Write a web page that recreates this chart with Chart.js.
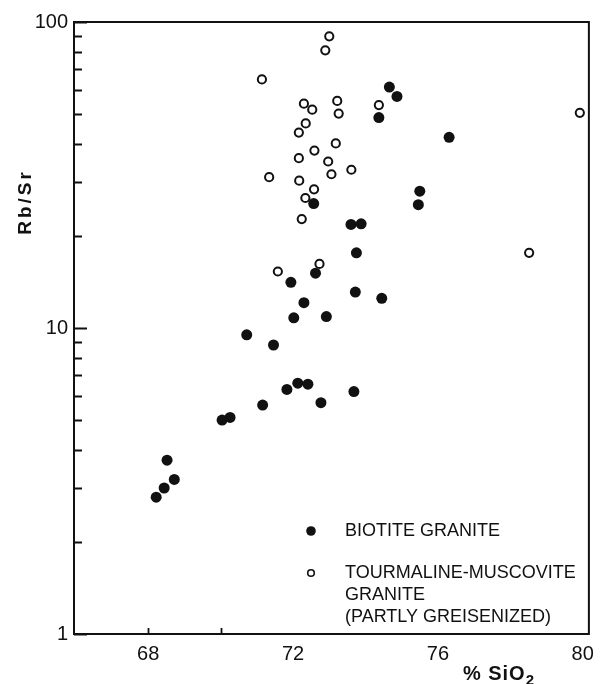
<!DOCTYPE html>
<html>
<head>
<meta charset="utf-8">
<style>
  html, body { margin: 0; padding: 0; background: #ffffff; }
  #wrap { width: 602px; height: 684px; }
</style>
<script src="https://cdn.jsdelivr.net/npm/chart.js@4.4.1/dist/chart.umd.min.js"></script>
</head>
<body>
<div id="wrap"><canvas id="c" width="602" height="684"></canvas></div>
<script>
// Rb/Sr ratio against % SiO2 for two granite types (log Rb/Sr axis)

const biotiteSiO2 = [74.66, 74.87, 74.37, 76.31, 75.50, 75.46, 72.57, 73.60, 73.88, 73.75,
                     72.62, 71.94, 73.72, 74.45, 72.30, 72.02, 72.92, 70.72, 71.46, 72.13,
                     72.41, 71.83, 71.16, 72.77, 73.68, 70.04, 70.26, 68.52, 68.72, 68.44, 68.22];
const biotiteRbSr = [61.3, 57.1, 48.7, 42.0, 28.0, 25.3, 25.5, 21.8, 21.9, 17.6,
                     15.1, 14.1, 13.1, 12.5, 12.1, 10.8, 10.9, 9.5, 8.8, 6.6,
                     6.55, 6.3, 5.6, 5.7, 6.2, 5.0, 5.1, 3.7, 3.2, 3.0, 2.8];

const tourmalineSiO2 = [73.00, 72.89, 71.14, 72.30, 72.53, 73.22, 73.26, 74.37, 72.35, 72.16,
                        73.18, 72.59, 72.16, 72.97, 73.06, 73.61, 71.34, 72.17, 72.58, 72.34,
                        72.24, 72.73, 71.58, 79.92, 78.52];
const tourmalineRbSr = [89.8, 80.8, 64.9, 54.1, 51.7, 55.2, 50.2, 53.5, 46.6, 43.5,
                        40.1, 38.0, 35.9, 35.0, 31.8, 32.9, 31.1, 30.3, 28.4, 26.6,
                        22.7, 16.2, 15.3, 50.5, 17.6];

const biotiteLegend = ['BIOTITE GRANITE'];
const tourmalineLegend = ['TOURMALINE-MUSCOVITE', 'GRANITE', '(PARTLY GREISENIZED)'];

const xTickLabels = [68, 72, 76, 80];
const xTickMarks = [68, 70];
const yTickLabels = [1, 10, 100];
const yMinorTicks = [2, 3, 4, 5, 6, 7, 8, 9, 20, 30, 40, 50, 60, 70, 80, 90];

const INK = '#111111';
const FONT = '"Liberation Sans", Arial, Helvetica, sans-serif';

function pairs(xs, ys) {
  return xs.map((x, i) => ({ x: x, y: ys[i] }));
}

// Frame, inward ticks, axis titles and the in-plot key
const decorations = {
  id: 'decorations',
  afterDraw(chart) {
    const ctx = chart.ctx;
    const a = chart.chartArea;
    const xs = chart.scales.x;
    const ys = chart.scales.y;
    ctx.save();
    ctx.strokeStyle = INK;
    ctx.fillStyle = INK;

    // box
    ctx.lineWidth = 2;
    ctx.strokeRect(a.left, a.top, a.right - a.left, a.bottom - a.top);

    // y ticks pointing into the plot
    ctx.lineWidth = 1.8;
    ctx.beginPath();
    yTickLabels.forEach(v => {
      const py = Math.round(ys.getPixelForValue(v)) + 0.5;
      ctx.moveTo(a.left, py); ctx.lineTo(a.left + 13, py);
    });
    yMinorTicks.forEach(v => {
      const py = Math.round(ys.getPixelForValue(v)) + 0.5;
      ctx.moveTo(a.left, py); ctx.lineTo(a.left + 8, py);
    });
    // x ticks pointing into the plot
    xTickMarks.forEach(v => {
      const px = Math.round(xs.getPixelForValue(v)) + 0.5;
      ctx.moveTo(px, a.bottom); ctx.lineTo(px, a.bottom - 6);
    });
    ctx.stroke();

    // y title
    ctx.save();
    ctx.translate(a.left - 48, a.top + 180);
    ctx.rotate(-Math.PI / 2);
    ctx.font = 'bold 19px ' + FONT;
    ctx.letterSpacing = '3px';
    ctx.textAlign = 'center';
    ctx.textBaseline = 'middle';
    ctx.fillText('Rb/Sr', 0, 0);
    ctx.restore();

    // x title with subscript
    ctx.save();
    ctx.font = 'bold 20px ' + FONT;
    ctx.letterSpacing = '1px';
    ctx.textAlign = 'left';
    ctx.textBaseline = 'alphabetic';
    const tx = a.right - 126, ty = a.bottom + 46;
    ctx.fillText('% SiO', tx, ty);
    const w = ctx.measureText('% SiO').width;
    ctx.font = 'bold 15px ' + FONT;
    ctx.fillText('2', tx + w, ty + 5);
    ctx.restore();

    // key
    const ds0 = chart.data.datasets[0];
    const ds1 = chart.data.datasets[1];
    const kx = a.left + 237;
    const tx0 = a.left + 271;
    ctx.font = '18px ' + FONT;
    ctx.textAlign = 'left';
    ctx.textBaseline = 'middle';

    let ky = a.top + 509;
    ctx.beginPath();
    ctx.arc(kx, ky, 4.8, 0, Math.PI * 2);
    ctx.fillStyle = ds0.pointBackgroundColor;
    ctx.fill();
    ctx.fillStyle = INK;
    biotiteLegend.forEach((t, i) => ctx.fillText(t, tx0, ky + i * 22));

    ky = a.top + 551;
    ctx.beginPath();
    ctx.arc(kx, ky, 3.3, 0, Math.PI * 2);
    ctx.fillStyle = ds1.pointBackgroundColor;
    ctx.fill();
    ctx.lineWidth = 1.6;
    ctx.strokeStyle = ds1.pointBorderColor;
    ctx.stroke();
    ctx.fillStyle = INK;
    tourmalineLegend.forEach((t, i) => ctx.fillText(t, tx0, ky + i * 22));

    ctx.restore();
  }
};

new Chart(document.getElementById('c').getContext('2d'), {
  type: 'scatter',
  data: {
    datasets: [
      {
        label: biotiteLegend.join(' '),
        data: pairs(biotiteSiO2, biotiteRbSr),
        pointStyle: 'circle',
        pointRadius: 5.5,
        pointHoverRadius: 5.5,
        pointBackgroundColor: INK,
        pointBorderColor: INK,
        pointBorderWidth: 0
      },
      {
        label: tourmalineLegend.join(' '),
        data: pairs(tourmalineSiO2, tourmalineRbSr),
        pointStyle: 'circle',
        pointRadius: 4.1,
        pointHoverRadius: 4.1,
        pointBackgroundColor: '#ffffff',
        pointBorderColor: INK,
        pointBorderWidth: 2
      }
    ]
  },
  options: {
    responsive: false,
    animation: false,
    events: [],
    layout: { padding: { left: 0, right: 13, top: 22, bottom: 0 } },
    plugins: { legend: { display: false }, tooltip: { enabled: false } },
    scales: {
      x: {
        type: 'linear',
        min: 65.95,
        max: 80.17,
        afterBuildTicks: s => { s.ticks = xTickLabels.map(v => ({ value: v })); },
        afterFit: s => { s.height = 50; },
        grid: { display: false, drawTicks: false },
        border: { display: false },
        ticks: {
          color: INK,
          font: { family: FONT, size: 20 },
          padding: 8,
          maxRotation: 0,
          autoSkip: false,
          callback: v => String(v)
        }
      },
      y: {
        type: 'logarithmic',
        min: 1,
        max: 100,
        afterBuildTicks: s => { s.ticks = yTickLabels.map(v => ({ value: v })); },
        afterFit: s => { s.width = 74; },
        grid: { display: false, drawTicks: false },
        border: { display: false },
        ticks: {
          color: INK,
          font: { family: FONT, size: 20 },
          padding: 6,
          autoSkip: false,
          callback: v => String(v)
        }
      }
    }
  },
  plugins: [decorations]
});
</script>
</body>
</html>
